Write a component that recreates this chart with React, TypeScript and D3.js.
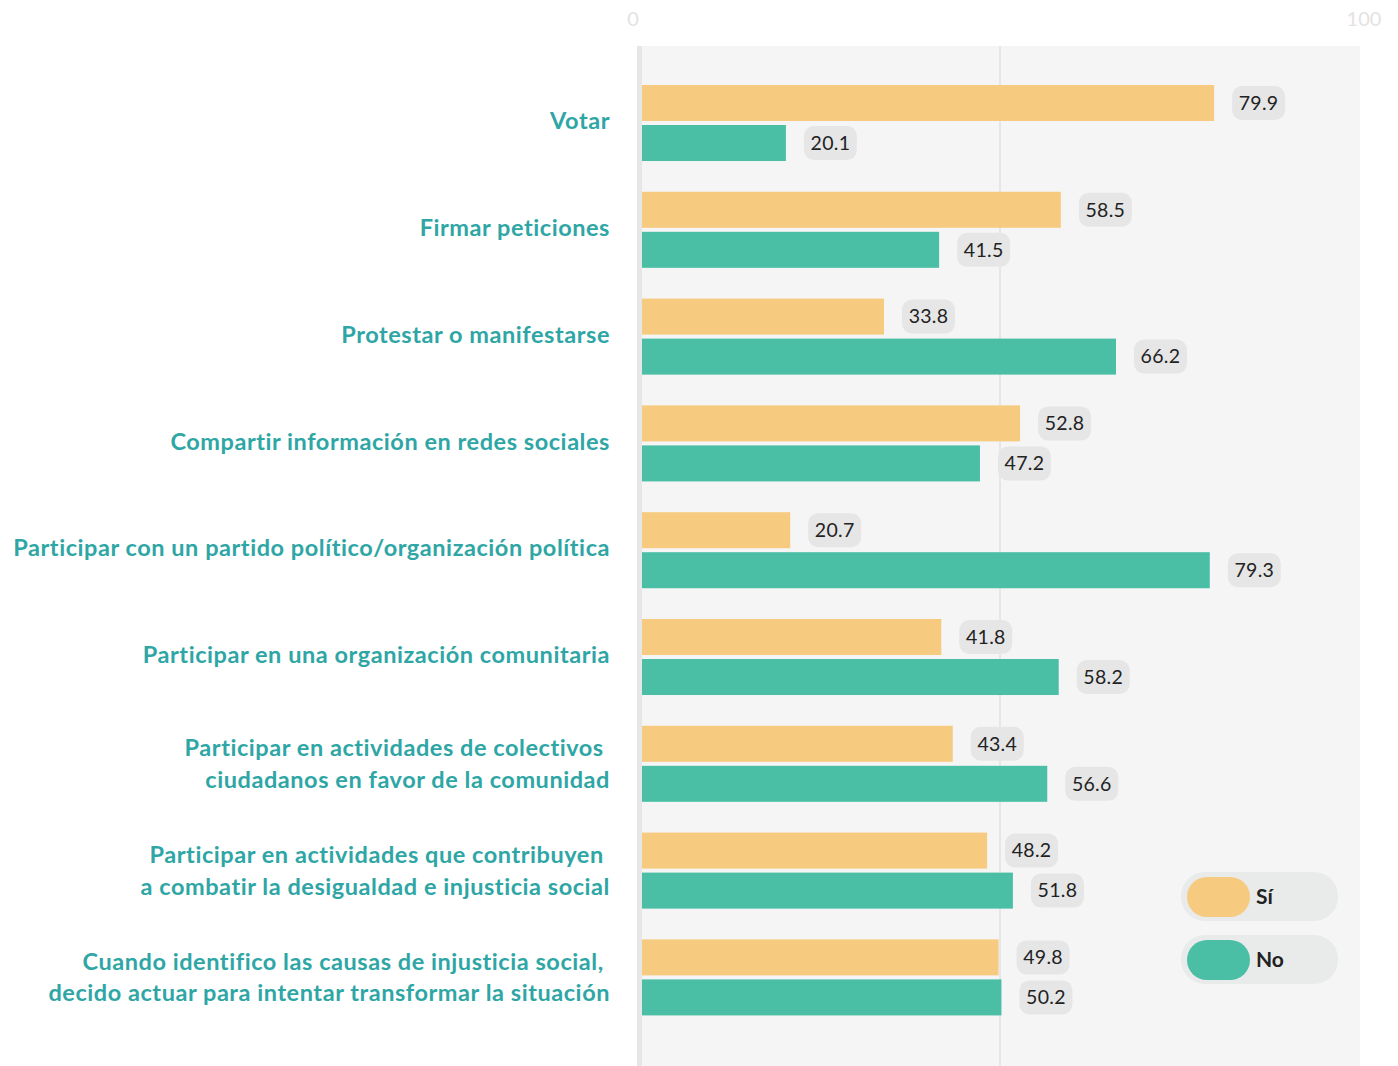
import React from "react";
import * as d3 from "d3";

const categories: string[][] = [
  ["Votar"],
  ["Firmar peticiones"],
  ["Protestar o manifestarse"],
  ["Compartir información en redes sociales"],
  ["Participar con un partido político/organización política"],
  ["Participar en una organización comunitaria"],
  ["Participar en actividades de colectivos ", "ciudadanos en favor de la comunidad"],
  ["Participar en actividades que contribuyen ", "a combatir la desigualdad e injusticia social"],
  ["Cuando identifico las causas de injusticia social, ", "decido actuar para intentar transformar la situación"],
];
const siValues = [79.9, 58.5, 33.8, 52.8, 20.7, 41.8, 43.4, 48.2, 49.8];
const noValues = [20.1, 41.5, 66.2, 47.2, 79.3, 58.2, 56.6, 51.8, 50.2];
const seriesKeys = ["Sí", "No"];
const seriesColors = ["#f6cb80", "#4abfa5"];
const tickValues = [0, 100];

const W = 1398;
const H = 1066;
const FONT = "Lato, 'Open Sans', sans-serif";

export default function App() {
  const x = d3.scaleLinear().domain([0, 100]).range([642, 1358]);
  const ids = categories.map((_, i) => String(i));
  const y = d3
    .scaleBand<string>()
    .domain(ids)
    .range([69.6, 69.6 + 9 * 106.8])
    .paddingInner(0.288)
    .paddingOuter(0.144);
  const inner = d3
    .scaleBand<string>()
    .domain(seriesKeys)
    .range([0, y.bandwidth()])
    .paddingInner(0.1);
  const series = [siValues, noValues];

  return (
    <div style={{ position: "absolute", left: 0, top: 0 }}>
      <svg width={W} height={H} style={{ display: "block" }}>
        <rect x={0} y={0} width={W} height={H} fill="#ffffff" />
        {/* plot background */}
        <rect x={637} y={46} width={1360 - 637} height={H - 46} fill="#f5f5f5" />
        <rect x={637} y={46} width={5} height={H - 46} fill="#e6e6e6" />
        <line x1={x(50)} x2={x(50)} y1={46} y2={H} stroke="#e6e6e6" strokeWidth={2} />
        {/* ticks */}
        {tickValues.map((t) => (
          <text
            key={t}
            x={x(t) - (t === 0 ? 9 : -6)}
            y={26}
            textAnchor="middle"
            fontFamily={FONT}
            fontSize={20}
            fill="#e3e3e3"
          >
            {t}
          </text>
        ))}
        {/* category labels */}
        {categories.map((lines, i) => {
          const cy = (y(ids[i]) as number) + y.bandwidth() / 2 - (lines.length === 1 ? 2 : 0);
          const lh = 31.5;
          const start = cy - ((lines.length - 1) * lh) / 2;
          return (
            <text
              key={i}
              textAnchor="end"
              fontFamily={FONT}
              fontWeight={700}
              fontSize={23.5}
              letterSpacing={0.55}
              fill="#2ea6a5"
              style={{ whiteSpace: "pre" }}
            >
              {lines.map((l, j) => (
                <tspan key={j} x={610} y={start + j * lh} dy="0.35em">
                  {l}
                </tspan>
              ))}
            </text>
          );
        })}
        {/* bars */}
        {categories.map((_, i) =>
          seriesKeys.map((k, s) => {
            const v = series[s][i];
            const by = (y(ids[i]) as number) + (inner(k) as number);
            const bh = inner.bandwidth();
            const x1 = x(v);
            const pillW = 53;
            const pillH = 34;
            return (
              <g key={`${i}-${k}`}>
                <rect x={x(0)} y={by} width={x1 - x(0)} height={bh} fill={seriesColors[s]} />
                <rect
                  x={x1 + 18}
                  y={by + bh / 2 - pillH / 2}
                  width={pillW}
                  height={pillH}
                  rx={10}
                  fill="#e6e6e7"
                />
                <text
                  x={x1 + 18 + pillW / 2}
                  y={by + bh / 2}
                  dy="0.35em"
                  textAnchor="middle"
                  fontFamily={FONT}
                  fontSize={19.5}
                  letterSpacing={0.3}
                  fill="#222222"
                >
                  {v.toFixed(1)}
                </text>
              </g>
            );
          })
        )}
        {/* legend */}
        {seriesKeys.map((k, s) => {
          const ly = 872 + s * 63;
          return (
            <g key={k}>
              <rect x={1181} y={ly} width={157} height={49} rx={24} fill="#e9eaea" />
              <rect x={1187} y={ly + 5} width={63} height={40} rx={20} fill={seriesColors[s]} />
              <text
                x={1256}
                y={ly + 25}
                dy="0.35em"
                fontFamily={FONT}
                fontWeight={700}
                fontSize={21}
                fill="#222222"
              >
                {k}
              </text>
            </g>
          );
        })}
      </svg>
    </div>
  );
}
